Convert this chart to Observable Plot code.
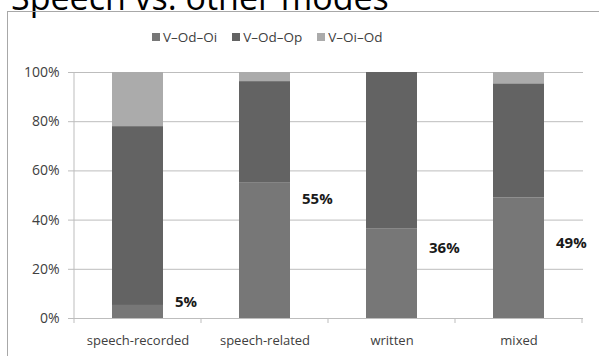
<!DOCTYPE html>
<html>
<head>
<meta charset="utf-8">
<script src="https://cdn.jsdelivr.net/npm/d3@7"></script>
<script src="https://cdn.jsdelivr.net/npm/@observablehq/plot@0.6"></script>
<style>
  html, body { margin: 0; padding: 0; background: #fff; }
  #wrap { position: relative; width: 599px; height: 356px; overflow: hidden; background: #fff; font-family: "Open Sans", sans-serif; }
  #title { position: absolute; left: 11px; top: -20px; font-size: 34px; line-height: 1; color: #000; white-space: nowrap; }
  #box { position: absolute; left: 7px; top: 11px; width: 640px; height: 420px; border: 1px solid #a8a8a8; }
  #legend { position: absolute; left: 152px; top: 28px; display: flex; align-items: center; font-size: 13.5px; color: #404040; line-height: 18px; }
  #legend .item { display: flex; align-items: center; margin-right: 15px; }
  #legend .sw { width: 8px; height: 8px; margin-right: 3px; }
  #chart { position: absolute; left: 0; top: 0; }
</style>
</head>
<body>
<div id="wrap">
  <div id="title">Speech vs. other modes</div>
  <div id="box"></div>
  <div id="legend"></div>
  <div id="chart"></div>
</div>
<script>
// ---- data ----
const categories = ["speech-recorded", "speech-related", "written", "mixed"];
const seriesNames = ["V\u2013Od\u2013Oi", "V\u2013Od\u2013Op", "V\u2013Oi\u2013Od"];
const seriesColors = ["#777777", "#636363", "#ababab"];
const vOdOi = [5.3, 55, 36.5, 49];
const vOdOp = [72.7, 41.3, 63.5, 46.4];
const vOiOd = [22, 3.7, 0, 4.6];
const pctLabels = ["5%", "55%", "36%", "49%"];
const pctLabelAt = [6.6, 48.4, 28.6, 30.6];
const yTicks = [0, 20, 40, 60, 80, 100];

const seriesValues = [vOdOi, vOdOp, vOiOd];
const rows = [];
seriesNames.forEach((s, si) => {
  categories.forEach((c, ci) => rows.push({category: c, series: s, value: seriesValues[si][ci]}));
});
const labelRows = categories.map((c, i) => ({category: c, y: pctLabelAt[i], text: pctLabels[i]}));

// legend
const legend = document.getElementById("legend");
seriesNames.forEach((s, i) => {
  const item = document.createElement("div");
  item.className = "item";
  const sw = document.createElement("div");
  sw.className = "sw";
  sw.style.background = seriesColors[i];
  const t = document.createElement("span");
  t.textContent = s;
  item.appendChild(sw);
  item.appendChild(t);
  legend.appendChild(item);
});

const axisColor = "#bdbdbd";

// axis line (left) and category boundary ticks, computed from scales
function axisFrame(index, scales) {
  const x = scales.x, y = scales.y;
  const bw = x.bandwidth();
  const step = x.step ? x.step() : (x(categories[1]) - x(categories[0]));
  const gap = (step - bw) / 2;
  const g = d3.create("svg:g").attr("stroke", axisColor).attr("stroke-width", 1);
  const x0 = x(categories[0]) - gap;
  g.append("line").attr("x1", x0).attr("x2", x0).attr("y1", y(0)).attr("y2", y(100));
  const bounds = categories.map(c => x(c) - gap);
  bounds.push(x(categories[categories.length - 1]) + bw + gap);
  bounds.forEach(b => {
    g.append("line").attr("x1", b).attr("x2", b).attr("y1", y(0)).attr("y2", y(0) + 5);
  });
  return g.node();
}

const chart = Plot.plot({
  width: 599,
  height: 356,
  marginLeft: 73,
  marginRight: 16,
  marginTop: 72,
  marginBottom: 38,
  style: {fontFamily: "Open Sans, sans-serif", fontSize: "13px", color: "#404040", background: "none", overflow: "visible"},
  x: {domain: categories, paddingInner: 0.6, paddingOuter: 0.3, label: null},
  y: {domain: [0, 100], label: null},
  color: {domain: seriesNames, range: seriesColors},
  marks: [
    Plot.ruleY(yTicks, {stroke: axisColor, strokeWidth: 1}),
    Plot.barY(rows, {x: "category", y: "value", fill: "series"}),
    Plot.axisY({ticks: yTicks, tickFormat: d => d + "%", tickSize: 5, tickPadding: 9, stroke: axisColor, fill: "#404040", fontSize: 14, label: null}),
    Plot.axisX({tickSize: 0, tickPadding: 17, fill: "#404040", fontSize: 13, label: null}),
    axisFrame,
    Plot.text(labelRows, {x: "category", y: "y", text: "text", dx: 37, textAnchor: "start", fontWeight: "bold", fontSize: 15, fill: "#1a1a1a"})
  ]
});
document.getElementById("chart").appendChild(chart);
</script>
</body>
</html>
